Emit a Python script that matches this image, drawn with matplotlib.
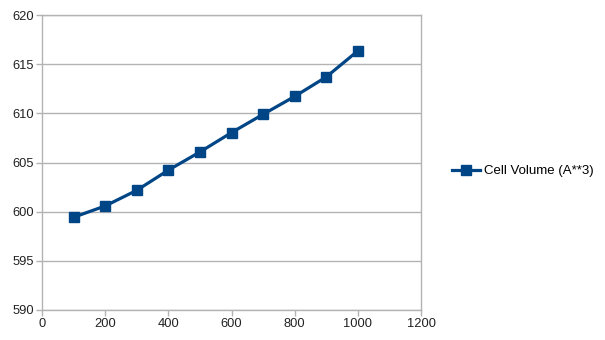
import numpy as np
import matplotlib.pyplot as plt

# Cell volume vs temperature-like x series
x_vals = [100, 200, 300, 400, 500, 600, 700, 800, 900, 1000]
cell_volume = [599.43, 600.58, 602.17, 604.22, 606.07, 608.04, 609.9, 611.72, 613.7, 616.35]
series_label = 'Cell Volume (A**3)'

x_ticks = [0, 200, 400, 600, 800, 1000, 1200]
y_ticks = [590, 595, 600, 605, 610, 615, 620]

plt.rcParams['font.family'] = ['Liberation Sans', 'DejaVu Sans']

fig = plt.figure(figsize=(6.05, 3.4), dpi=100)
ax = fig.add_axes([42 / 605, 1 - 310 / 340, (421 - 42) / 605, (310 - 15) / 340])

grid_col = '#b3b3b3'
ax.set_xlim(0, 1200)
ax.set_ylim(590, 620)
ax.set_xticks(x_ticks)
ax.set_yticks(y_ticks)
ax.yaxis.grid(True, color=grid_col, linewidth=1)
ax.set_axisbelow(True)
for s in ax.spines.values():
    s.set_color(grid_col)
    s.set_linewidth(1)

ax.tick_params(axis='both', colors=grid_col, labelcolor='#222222', labelsize=9.3,
               length=4, width=1, direction='out')
ax.tick_params(axis='x', pad=2)
ax.tick_params(axis='y', pad=2)

line, = ax.plot(x_vals, cell_volume, color='#004586', linewidth=2.3,
                marker='s', markersize=7.5, label=series_label)

fig.legend(handles=[line], loc='center left', bbox_to_anchor=(452 / 605, 1 - 171 / 340),
           frameon=False, fontsize=9.5, handlelength=2.1, handletextpad=0.35,
           borderaxespad=0, borderpad=0)

fig.savefig('out.png', dpi=100)
